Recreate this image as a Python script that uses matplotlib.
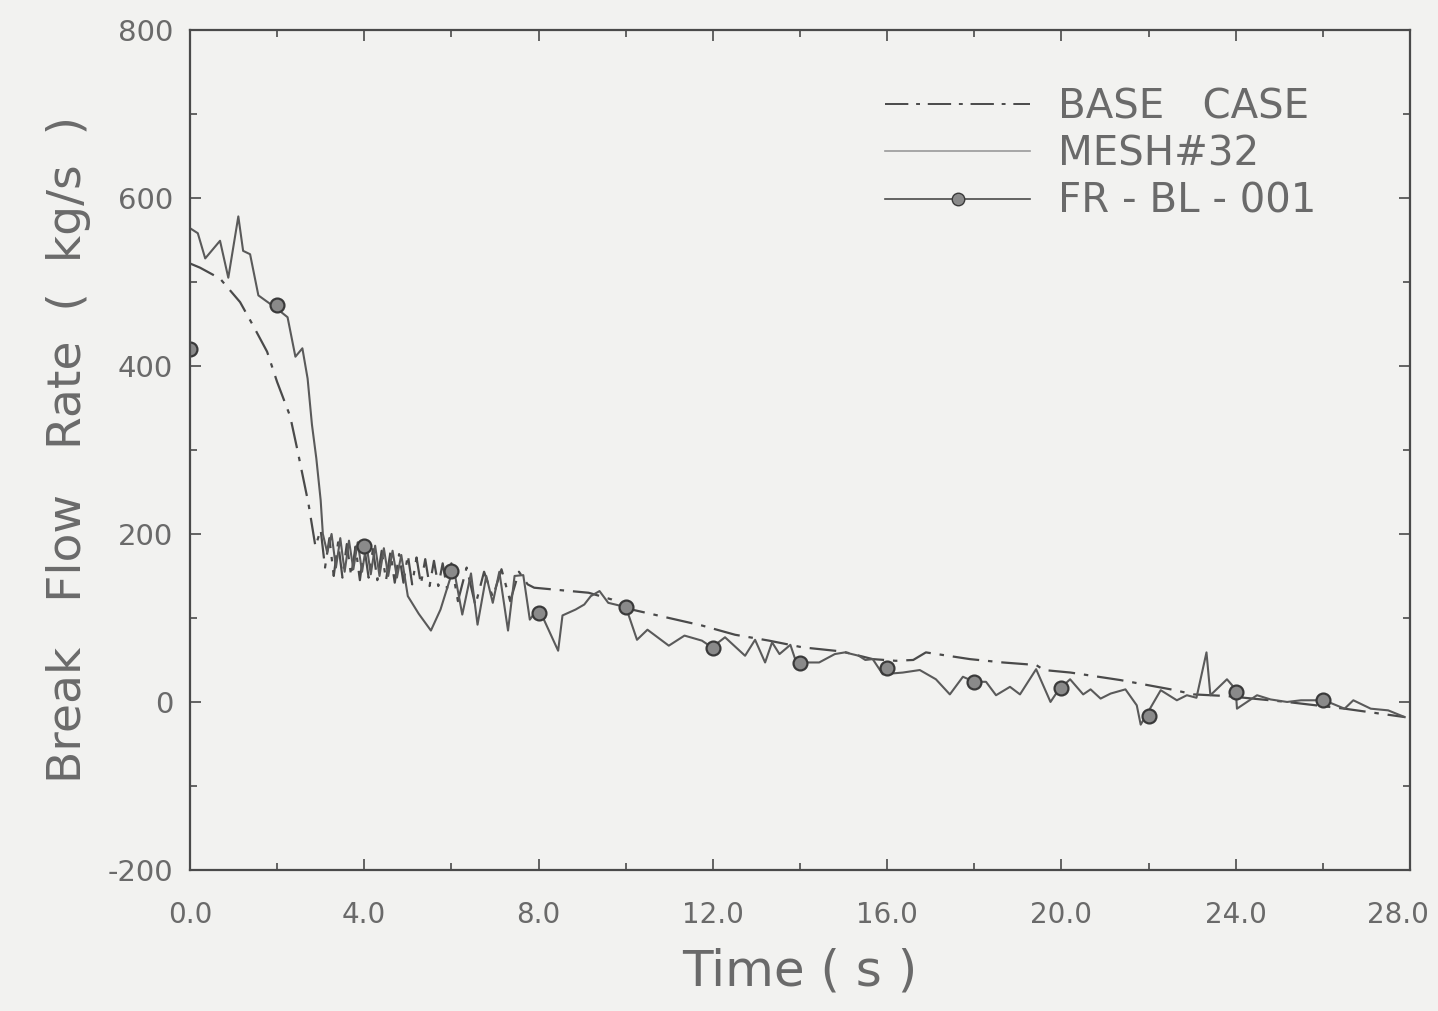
import matplotlib
matplotlib.use("Agg")
import matplotlib.pyplot as plt
import matplotlib.transforms as mtransforms
from matplotlib.lines import Line2D
from matplotlib.ticker import MultipleLocator, FixedLocator

# ---- data ----
base_t = [0.0, 0.23, 0.69, 1.15, 1.45, 1.77, 2.0, 2.3, 2.47, 2.72, 2.88,
          3.0, 3.1, 3.2, 3.3, 3.4, 3.5, 3.6, 3.7, 3.8, 3.9, 4.0, 4.1, 4.2, 4.3,
          4.4, 4.5, 4.6, 4.7, 4.8, 4.9, 5.0, 5.1, 5.2, 5.3, 5.4, 5.5, 5.6, 5.7,
          5.8, 5.9, 6.0, 6.15, 6.35, 6.55, 6.75, 6.95, 7.15, 7.35, 7.55, 7.75,
          7.9, 9.15, 9.68, 10.14, 10.99, 11.75, 12.51, 13.29, 14.06, 14.98,
          15.67, 16.2, 16.6, 16.89, 17.9, 18.66, 19.42, 19.6, 20.21, 21.36,
          22.51, 23.04, 23.8, 25.18, 26.5, 27.88]
base_v = [522, 517, 504, 476, 448, 417, 381, 340, 299, 236, 185,
          205, 160, 195, 150, 190, 148, 188, 150, 185, 145, 185, 148, 182, 145,
          180, 145, 178, 142, 176, 142, 175, 140, 172, 140, 170, 138, 168, 138,
          165, 135, 165, 120, 160, 115, 155, 125, 158, 120, 155, 140,
          136, 130, 122, 110, 100, 91, 80, 73, 65, 60,
          51, 49, 50, 59, 51, 47, 44, 38, 35, 26,
          15, 9, 7, 0, -8, -18]

mesh_t = [0.0, 0.18, 0.35, 0.69, 0.88, 1.11, 1.22, 1.38, 1.57, 1.73, 2.0,
          2.24, 2.42, 2.58, 2.7, 2.8, 2.9, 3.0, 3.05,
          3.15, 3.25, 3.35, 3.45, 3.55, 3.65, 3.75, 3.85, 3.95, 4.05, 4.15,
          4.25, 4.35, 4.45, 4.55, 4.65, 4.75, 4.85, 5.0, 5.25, 5.53, 5.75,
          5.9, 6.05, 6.25, 6.45, 6.6, 6.8, 6.95, 7.1, 7.3, 7.45, 7.65, 7.8,
          8.0, 8.45, 8.55, 8.85, 9.05, 9.2, 9.4, 9.6, 10.0, 10.07, 10.26,
          10.5, 10.99, 11.35, 11.75, 11.98, 12.28, 12.74, 12.97, 13.2, 13.36,
          13.53, 13.78, 13.89, 13.98, 14.44, 14.8, 15.03, 15.35, 15.5, 15.67,
          15.9, 16.36, 16.75, 17.12, 17.44, 17.74, 18.0, 18.27, 18.5, 18.82,
          19.05, 19.42, 19.75, 19.93, 20.2, 20.5, 20.67, 20.9, 21.13, 21.47,
          21.73, 21.82, 22.28, 22.65, 22.88, 23.1, 23.33, 23.42, 23.8, 24.0,
          24.03, 24.26, 24.49, 24.8, 25.18, 25.5, 26.03, 26.5, 26.7, 27.1,
          27.5, 27.88]
mesh_v = [564, 558, 528, 549, 505, 578, 537, 533, 484, 478, 468,
          458, 411, 421, 385, 330, 290, 240, 200,
          178, 200, 160, 195, 155, 192, 158, 190, 155, 188, 152,
          186, 150, 183, 150, 180, 148, 175, 126, 105, 85, 110,
          135, 160, 104, 153, 92, 150, 118, 155, 85, 150, 151, 98,
          112, 61, 103, 110, 116, 126, 132, 118, 113, 103, 74,
          86, 67, 79, 73, 65, 77, 55, 74, 47, 71,
          57, 68, 51, 47, 47, 57, 59, 55, 50, 51,
          33, 35, 38, 27, 9, 30, 24, 24, 8, 18,
          9, 39, 0, 14, 27, 9, 15, 4, 10, 15,
          -4, -27, 14, 2, 8, 5, 59, 8, 27, 15,
          -8, 0, 8, 3, 0, 2, 2, -8, 2, -8,
          -10, -18]

exp_t = [0, 2, 4, 6, 8, 10, 12, 14, 16, 18, 20, 22, 24, 26]
exp_v = [420, 472, 186, 156, 106, 113, 64, 46, 40, 24, 17, -17, 12, 2]

x_ticks = [0, 4, 8, 12, 16, 20, 24, 28]
x_labels = ["0.0", "4.0", "8.0", "12.0", "16.0", "20.0", "24.0", "28.0"]
y_ticks = [-200, 0, 200, 400, 600, 800]
y_labels = ["-200", "0", "200", "400", "600", "800"]

# ---- style ----
bg = "#f2f2f0"
ink = "#4a4a4a"
text_c = "#6a6a6a"

fig = plt.figure(figsize=(14.38, 10.11), dpi=100, facecolor=bg)
ax = fig.add_axes([0.1321, 0.1395, 0.8484, 0.8309], facecolor=bg)

ax.plot(base_t, base_v, color=ink, lw=1.6, dashes=(12, 4, 2, 4))
ax.plot(mesh_t, mesh_v, color="#5a5a5a", lw=1.5)
ax.plot(exp_t, exp_v, ls="none", marker="o", ms=10,
        mfc="#8a8a8a", mec="#3a3a3a", mew=1.6)

ax.set_xlim(0, 28)
ax.set_ylim(-200, 800)
ax.xaxis.set_major_locator(FixedLocator(x_ticks))
ax.set_xticklabels(x_labels)
ax.xaxis.set_minor_locator(MultipleLocator(2))
ax.yaxis.set_major_locator(FixedLocator(y_ticks))
ax.set_yticklabels(y_labels)
ax.yaxis.set_minor_locator(MultipleLocator(100))

ax.tick_params(which="both", direction="in", top=True, right=True,
               color=ink, width=1.2)
ax.tick_params(which="major", length=8, labelsize=21, labelcolor=text_c)
ax.tick_params(axis="x", labelsize=20)
ax.tick_params(which="minor", length=5)
ax.tick_params(axis="x", pad=22)
ax.tick_params(axis="y", pad=12)
for s in ax.spines.values():
    s.set_color(ink)
    s.set_linewidth(1.6)

# keep the last x tick label inside the canvas
last = ax.get_xticklabels()[-1]
last.set_transform(last.get_transform() +
                   mtransforms.ScaledTranslation(-12 / 100, 0,
                                                 fig.dpi_scale_trans))

ax.set_xlabel("Time ( s )", fontsize=36, color=text_c, labelpad=14)
ax.set_ylabel("Break   Flow   Rate  (  kg/s  )", fontsize=34, color=text_c,
              labelpad=12)

handles = [
    Line2D([], [], color=ink, lw=1.4, dashes=(12, 4, 2, 4)),
    Line2D([], [], color="#9a9a9a", lw=1.2),
    Line2D([], [], color=ink, lw=1.2, marker="o", ms=9,
           mfc="#8a8a8a", mec="#3a3a3a"),
]
labels = ["BASE   CASE", "MESH#32", "FR - BL - 001"]
leg = ax.legend(handles, labels, loc="upper left",
                bbox_to_anchor=(0.54, 0.975), frameon=False, fontsize=29,
                handlelength=3.6, handletextpad=0.7, labelspacing=0.18,
                numpoints=1)
for t in leg.get_texts():
    t.set_color(text_c)

fig.savefig("out.png", dpi=100, facecolor=bg)
